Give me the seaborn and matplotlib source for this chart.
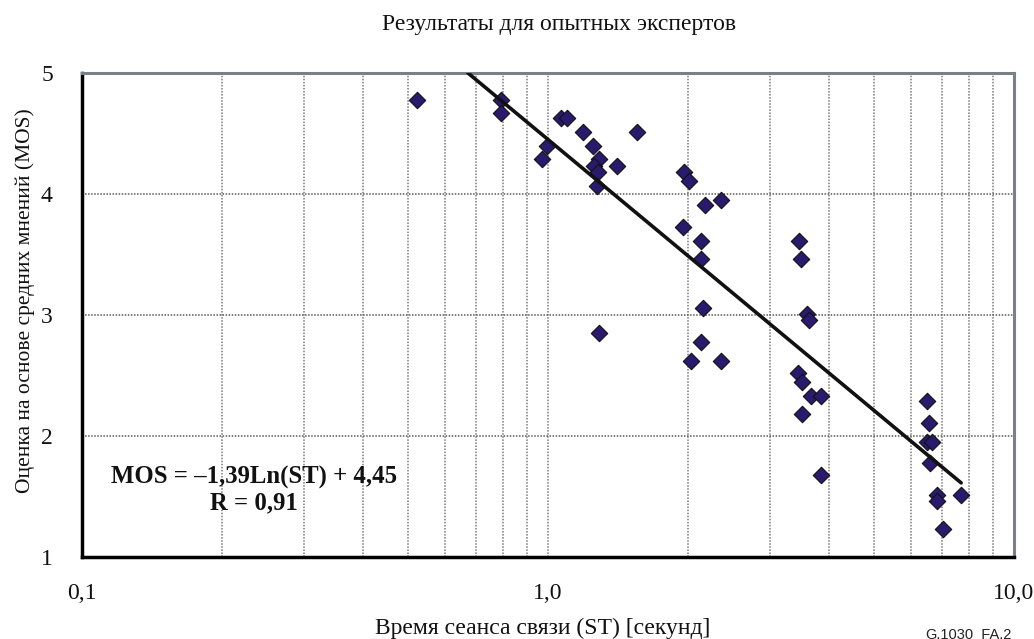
import numpy as np
import pandas as pd
import matplotlib
matplotlib.use("Agg")
import matplotlib.pyplot as plt
from matplotlib.ticker import LogLocator, FixedLocator, NullFormatter
import seaborn as sns

# Session time (s) and mean opinion score for experienced experts
st = [0.524, 0.792, 0.792, 1.066, 1.10, 1.187, 0.994, 0.972, 1.247, 1.285,
      1.257, 1.282, 1.272, 1.404, 1.55, 1.287, 1.958, 2.007, 2.172, 2.348,
      1.945, 2.127, 2.13, 2.15, 2.127, 2.024, 2.348, 3.45, 3.486, 3.596,
      3.626, 3.444, 3.513, 3.662, 3.853, 3.513, 3.847, 6.507, 6.57, 6.495,
      6.66, 6.60, 6.845, 6.82, 7.685, 7.03]
mos = [4.78, 4.78, 4.67, 4.63, 4.63, 4.51, 4.40, 4.29, 4.40, 4.29,
       4.23, 4.18, 4.07, 4.23, 4.51, 2.85, 4.18, 4.11, 3.91, 3.95,
       3.73, 3.61, 3.46, 3.06, 2.78, 2.62, 2.62, 3.61, 3.46, 3.01,
       2.96, 2.52, 2.45, 2.33, 2.33, 2.18, 1.68, 2.29, 2.11, 1.95,
       1.95, 1.78, 1.51, 1.46, 1.51, 1.23]

# Logarithmic trend: MOS = a*Ln(ST) + b
coef_a = -1.39
coef_b = 4.45
r_value = 0.91
trend_range = [0.673, 7.7]

x_ticks = [0.1, 1.0, 10.0]
x_tick_labels = ["0,1", "1,0", "10,0"]
y_ticks = [1, 2, 3, 4, 5]

title = "Результаты для опытных экспертов"
xlabel = "Время сеанса связи (ST) [секунд]"
ylabel = "Оценка на основе средних мнений (MOS)"
eq_text = "MOS = –1,39Ln(ST) + 4,45\nR = 0,91"
fig_id = "G.1030_FA.2"

sns.set_theme(style="white")
plt.rcParams["font.family"] = ["Liberation Serif", "DejaVu Serif"]

fig = plt.figure(figsize=(10.34, 6.39), dpi=100)
ax = fig.add_axes([0.0793, 0.1283, 0.9014, 0.7575])

df = pd.DataFrame({"st": st, "mos": mos})
sns.scatterplot(data=df, x="st", y="mos", marker="D", s=70,
                color="#2a1a6e", edgecolor="#111111", linewidth=0.8,
                ax=ax, zorder=3)

tx = np.exp(np.linspace(np.log(trend_range[0]), np.log(trend_range[1]), 100))
trend = pd.DataFrame({"st": tx, "mos": coef_a * np.log(tx) + coef_b})
sns.lineplot(data=trend, x="st", y="mos", color="#111111", linewidth=2.6,
             ax=ax, zorder=4)

ax.set_xscale("log")
ax.set_xlim(0.1, 10.0)
ax.set_ylim(1, 5)

ax.xaxis.set_major_locator(FixedLocator(x_ticks))
ax.set_xticklabels(x_tick_labels)
ax.xaxis.set_minor_locator(LogLocator(base=10, subs=np.arange(2, 10)))
ax.xaxis.set_minor_formatter(NullFormatter())
ax.set_yticks(y_ticks)

ax.grid(True, which="both", axis="x", color="#7a7a7a",
        linestyle=(0, (1, 1)), linewidth=1.1)
ax.grid(True, which="major", axis="y", color="#5a5a5a",
        linestyle=(0, (1, 1)), linewidth=1.1)

ax.tick_params(axis="both", which="major", direction="out", length=5,
               width=2, color="black", labelsize=17, labelcolor="#111111")
ax.tick_params(axis="y", pad=16)
ax.tick_params(axis="x", pad=14)
ax.tick_params(axis="x", which="minor", length=0)

for side in ["left", "bottom"]:
    ax.spines[side].set_color("black")
    ax.spines[side].set_linewidth(2.5)
for side in ["top", "right"]:
    ax.spines[side].set_color("#7a8086")
    ax.spines[side].set_linewidth(2.2)
    ax.spines[side].set_visible(True)

ax.set_xlabel(xlabel, fontsize=17, color="#111111")
ax.xaxis.label.set_va("center")
ax.xaxis.set_label_coords(0.4946, -0.1467)
ax.set_ylabel(ylabel, fontsize=15.5, color="#111111")
ax.yaxis.label.set_va("center")
ax.yaxis.set_label_coords(-0.061, 0.53)

fig.text(0.5406, 0.961, title, ha="center", va="center", fontsize=17,
         color="#111111")

ax.text(0.1845, 0.138, eq_text, transform=ax.transAxes, ha="center",
        va="center", fontsize=17.8, fontweight="bold", color="#111111",
        linespacing=1.1, zorder=5)

fig.text(0.895, 0.019, fig_id, ha="left", va="top", fontsize=10.5,
         family=["Liberation Sans", "DejaVu Sans"], color="#222222")

fig.savefig("out.png", dpi=100)
